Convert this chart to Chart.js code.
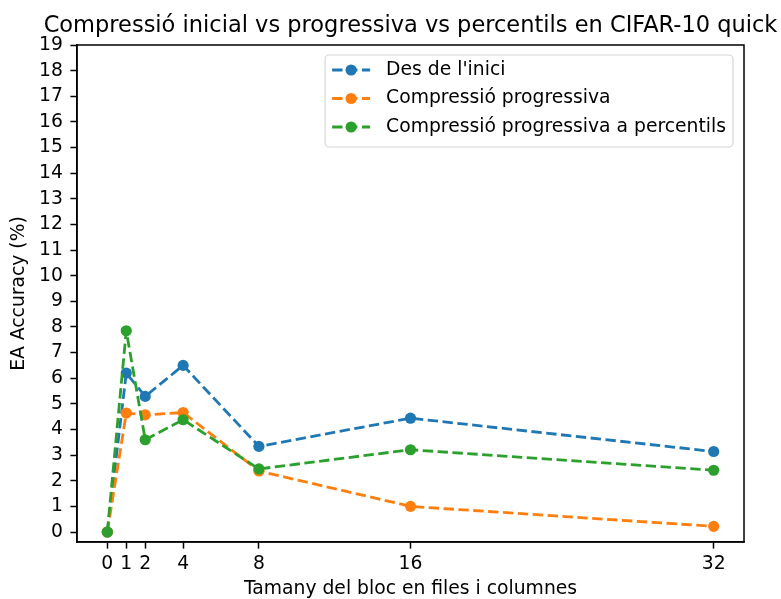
<!DOCTYPE html>
<html>
<head>
<meta charset="utf-8">
<script src="https://cdn.jsdelivr.net/npm/chart.js@4/dist/chart.umd.min.js"></script>
<style>
  html, body { margin: 0; padding: 0; background: #fff; }
  canvas { display: block; }
</style>
</head>
<body>
<canvas id="chart" width="781" height="599"></canvas>
<script>
// Block size (rows and columns) on the x axis
const blockSizes = [0, 1, 2, 4, 8, 16, 32];

// EA accuracy (%) for each compression strategy
const fromStart   = [0, 6.2, 5.29, 6.5, 3.34, 4.44, 3.14];
const progressive = [0, 4.64, 4.57, 4.66, 2.38, 1.0, 0.22];
const percentiles = [0, 7.85, 3.6, 4.38, 2.46, 3.21, 2.41];

const seriesNames = ["Des de l'inici", "Compressió progressiva", "Compressió progressiva a percentils"];
const seriesValues = [fromStart, progressive, percentiles];
const seriesColors = ['#1f77b4', '#ff7f0e', '#2ca02c'];

const xTicks = [0, 1, 2, 4, 8, 16, 32];
const yTicks = [0, 1, 2, 3, 4, 5, 6, 7, 8, 9, 10, 11, 12, 13, 14, 15, 16, 17, 18, 19];

const chartTitle = 'Compressió inicial vs progressiva vs percentils en CIFAR-10 quick';
const xTitle = 'Tamany del bloc en files i columnes';
const yTitle = 'EA Accuracy (%)';

const FONT = '"DejaVu Sans", "Liberation Sans", sans-serif';
const TEXT_SIZE = 18.75;
const TITLE_SIZE = 22.5;
const LINE_W = 2.8;
const DASH = [10.4, 4.5];
const MARKER_R = 5.6;
const SPINE_W = 1.5;

// Title centred over the plotting area
const axesTitle = {
  id: 'axesTitle',
  afterDraw(chart) {
    const { ctx, chartArea } = chart;
    ctx.save();
    ctx.font = TITLE_SIZE + 'px ' + FONT;
    ctx.fillStyle = '#000';
    ctx.textAlign = 'center';
    ctx.textBaseline = 'alphabetic';
    ctx.fillText(chartTitle, (chartArea.left + chartArea.right) / 2, 31.5);
    ctx.restore();
  }
};

// Closed frame around the plotting area
const frame = {
  id: 'frame',
  afterDatasetsDraw(chart) {
    const { ctx, chartArea: a } = chart;
    ctx.save();
    ctx.strokeStyle = '#000';
    ctx.lineWidth = SPINE_W;
    ctx.strokeRect(a.left, a.top, a.right - a.left, a.bottom - a.top);
    ctx.restore();
  }
};

// Legend box in the upper right of the plot, line + marker per series
const insetLegend = {
  id: 'insetLegend',
  afterDraw(chart) {
    const { ctx, chartArea } = chart;
    ctx.save();
    ctx.font = TEXT_SIZE + 'px ' + FONT;
    const maxW = Math.max(...seriesNames.map(n => ctx.measureText(n).width));
    const boxW = 61 + maxW + 7;
    const boxH = 92;
    const right = chartArea.right - 11;
    const left = right - boxW;
    const top = chartArea.top + 10;
    const r = 4;
    ctx.beginPath();
    ctx.moveTo(left + r, top);
    ctx.arcTo(right, top, right, top + boxH, r);
    ctx.arcTo(right, top + boxH, left, top + boxH, r);
    ctx.arcTo(left, top + boxH, left, top, r);
    ctx.arcTo(left, top, right, top, r);
    ctx.closePath();
    ctx.fillStyle = 'rgba(255,255,255,0.8)';
    ctx.fill();
    ctx.strokeStyle = '#d6d6d6';
    ctx.lineWidth = 1.2;
    ctx.stroke();

    seriesNames.forEach((name, i) => {
      const y = top + 15 + i * 28.5;
      const x0 = left + 7, x1 = left + 45;
      ctx.strokeStyle = seriesColors[i];
      ctx.lineWidth = LINE_W;
      ctx.setLineDash(DASH);
      ctx.beginPath();
      ctx.moveTo(x0, y);
      ctx.lineTo(x1, y);
      ctx.stroke();
      ctx.setLineDash([]);
      ctx.fillStyle = seriesColors[i];
      ctx.beginPath();
      ctx.arc((x0 + x1) / 2, y, MARKER_R, 0, Math.PI * 2);
      ctx.fill();
      ctx.fillStyle = '#000';
      ctx.textAlign = 'left';
      ctx.textBaseline = 'middle';
      ctx.fillText(name, left + 61, y);
    });
    ctx.restore();
  }
};

const datasets = seriesNames.map((name, i) => ({
  label: name,
  data: blockSizes.map((x, j) => ({ x: x, y: seriesValues[i][j] })),
  borderColor: seriesColors[i],
  backgroundColor: seriesColors[i],
  borderWidth: LINE_W,
  borderDash: DASH,
  borderJoinStyle: 'round',
  borderCapStyle: 'butt',
  pointRadius: MARKER_R,
  pointHoverRadius: MARKER_R,
  pointBorderWidth: 0,
  pointBackgroundColor: seriesColors[i],
  tension: 0,
  fill: false,
  clip: false,
  order: seriesNames.length - 1 - i
}));

const textFont = { family: FONT, size: TEXT_SIZE };

new Chart(document.getElementById('chart'), {
  type: 'line',
  data: { datasets },
  plugins: [axesTitle, frame, insetLegend],
  options: {
    responsive: false,
    animation: false,
    devicePixelRatio: 1,
    layout: { padding: { left: 0, right: 37, top: 45, bottom: 0 } },
    plugins: {
      legend: { display: false },
      title: { display: false },
      tooltip: { enabled: false }
    },
    scales: {
      x: {
        type: 'linear',
        min: -1.6,
        max: 33.6,
        afterBuildTicks: s => { s.ticks = xTicks.map(v => ({ value: v })); },
        afterFit: s => { s.height = 57; },
        grid: { drawOnChartArea: false, drawTicks: true, tickLength: 6.6, tickWidth: SPINE_W, tickColor: '#000' },
        border: { display: true, color: '#000', width: SPINE_W },
        ticks: { color: '#000', font: textFont, padding: 4, maxRotation: 0, autoSkip: false },
        title: { display: true, text: xTitle, color: '#000', font: textFont, padding: { top: 0, bottom: -1 } }
      },
      y: {
        type: 'linear',
        min: -0.39,
        max: 19,
        afterBuildTicks: s => { s.ticks = yTicks.map(v => ({ value: v })); },
        afterFit: s => { s.width = 77; },
        grid: { drawOnChartArea: false, drawTicks: true, tickLength: 6.6, tickWidth: SPINE_W, tickColor: '#000' },
        border: { display: true, color: '#000', width: SPINE_W },
        ticks: { color: '#000', font: textFont, padding: 7.5, autoSkip: false },
        title: { display: true, text: yTitle, color: '#000', font: textFont, padding: { top: 7.5, bottom: 0 } }
      }
    }
  }
});
</script>
</body>
</html>
